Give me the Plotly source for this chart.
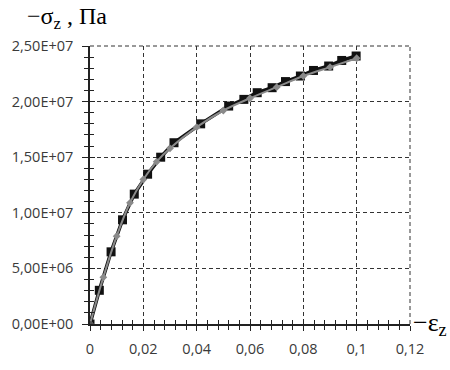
import plotly.graph_objects as go

# Black squares series (strain, stress Pa)
eps_sq = [0.0, 0.0035, 0.0079, 0.0122, 0.0166, 0.0216, 0.0265, 0.0315, 0.0415, 0.052,
          0.0577, 0.0627, 0.0683, 0.0733, 0.0789, 0.0838, 0.0895, 0.0944, 0.0998]
sig_sq = [0.0, 3.03e6, 6.49e6, 9.37e6, 1.168e7, 1.347e7, 1.50e7, 1.63e7, 1.80e7, 1.96e7,
          2.02e7, 2.08e7, 2.125e7, 2.18e7, 2.23e7, 2.28e7, 2.32e7, 2.37e7, 2.41e7]

# Gray series
eps_gr = [0.0, 0.005, 0.01, 0.015, 0.02, 0.025, 0.03, 0.04, 0.05, 0.06, 0.07, 0.08, 0.09, 0.1]
sig_gr = [0.0, 4.2e6, 7.9e6, 1.09e7, 1.3e7, 1.46e7, 1.58e7, 1.77e7, 1.92e7, 2.03e7,
          2.13e7, 2.23e7, 2.31e7, 2.39e7]

x_ticks = [0, 0.02, 0.04, 0.06, 0.08, 0.1, 0.12]
x_ticktext = ["0", "0,02", "0,04", "0,06", "0,08", "0,1", "0,12"]
y_ticks = [0, 5e6, 1e7, 1.5e7, 2e7, 2.5e7]
y_ticktext = ["0,00E+00", "5,00E+06", "1,00E+07", "1,50E+07", "2,00E+07", "2,50E+07"]

fig = go.Figure()
fig.add_trace(go.Scatter(x=eps_sq, y=sig_sq, mode="lines+markers",
                         line=dict(color="#111111", width=3.5),
                         marker=dict(symbol="square", size=9, color="#111111"),
                         showlegend=False))
fig.add_trace(go.Scatter(x=eps_gr, y=sig_gr, mode="lines+markers",
                         line=dict(color="#8a8a8a", width=2, shape="spline"),
                         marker=dict(symbol="diamond", size=6, color="#8a8a8a"),
                         showlegend=False))

font_tick = dict(family="Open Sans", size=14.5, color="#3a3a3a")
grid_dash = "4px,3px"
fig.update_layout(
    width=450, height=370,
    margin=dict(l=89, r=40, t=46, b=35),
    paper_bgcolor="white", plot_bgcolor="white",
    xaxis=dict(range=[0, 0.12], tickvals=x_ticks, ticktext=x_ticktext,
               showgrid=True, gridcolor="#333333", griddash=grid_dash, gridwidth=1,
               showline=True, linecolor="#222222", linewidth=1.5,
               ticks="outside", ticklen=5, tickcolor="#222222", tickwidth=1.3,
               ticklabelstandoff=6,
               minor=dict(dtick=0.004, ticks="outside", ticklen=4, tickcolor="#222222", showgrid=False),
               tickfont=font_tick, zeroline=False),
    yaxis=dict(range=[0, 2.5e7], tickvals=y_ticks, ticktext=y_ticktext,
               showgrid=True, gridcolor="#333333", griddash=grid_dash, gridwidth=1,
               showline=True, linecolor="#222222", linewidth=1.5,
               ticks="outside", ticklen=6, tickcolor="#222222", tickwidth=1.3,
               ticklabelstandoff=6,
               minor=dict(dtick=1e6, ticks="outside", ticklen=4, tickcolor="#222222", showgrid=False),
               tickfont=font_tick, zeroline=False),
    xaxis2=dict(range=[0, 0.12], overlaying="x", anchor="y2", side="bottom",
                tickvals=x_ticks, showticklabels=False, showgrid=False, showline=False,
                ticks="inside", ticklen=5, tickcolor="#222222", tickwidth=1.3,
                minor=dict(dtick=0.004, ticks="inside", ticklen=4, tickcolor="#222222", tickwidth=1),
                zeroline=False),
    yaxis2=dict(range=[0, 2.5e7], overlaying="y", anchor="x2", side="left",
                tickvals=y_ticks, showticklabels=False, showgrid=False, showline=False,
                ticks="inside", ticklen=5, tickcolor="#222222", tickwidth=1.3,
                minor=dict(dtick=1e6, ticks="inside", ticklen=4, tickcolor="#222222", tickwidth=1),
                zeroline=False),
)
# trace on overlay axes so they are drawn
fig.add_trace(go.Scatter(x=[0], y=[0], xaxis="x2", yaxis="y2", mode="markers",
                         marker=dict(size=6, color="#555555"), showlegend=False, hoverinfo="skip"))

# top and right dashed border
fig.add_shape(type="line", xref="paper", yref="paper", x0=0, x1=1, y0=1, y1=1,
              line=dict(color="#333333", width=1, dash=grid_dash))
fig.add_shape(type="line", xref="paper", yref="paper", x0=1, x1=1, y0=0, y1=1,
              line=dict(color="#333333", width=1, dash=grid_dash))

fig.add_annotation(text="−σ<sub>z</sub> , Па", xref="paper", yref="paper",
                   x=-0.2, y=1.1, xanchor="left", yanchor="middle", showarrow=False,
                   borderpad=0,
                   font=dict(family="Liberation Serif", size=24, color="black"))
fig.add_annotation(text="−ε<sub>z</sub>", xref="paper", yref="paper",
                   x=1.005, y=0.0, xanchor="left", yanchor="middle", showarrow=False,
                   borderpad=0,
                   font=dict(family="Liberation Serif", size=26, color="black"))

fig.write_html("out.html")
